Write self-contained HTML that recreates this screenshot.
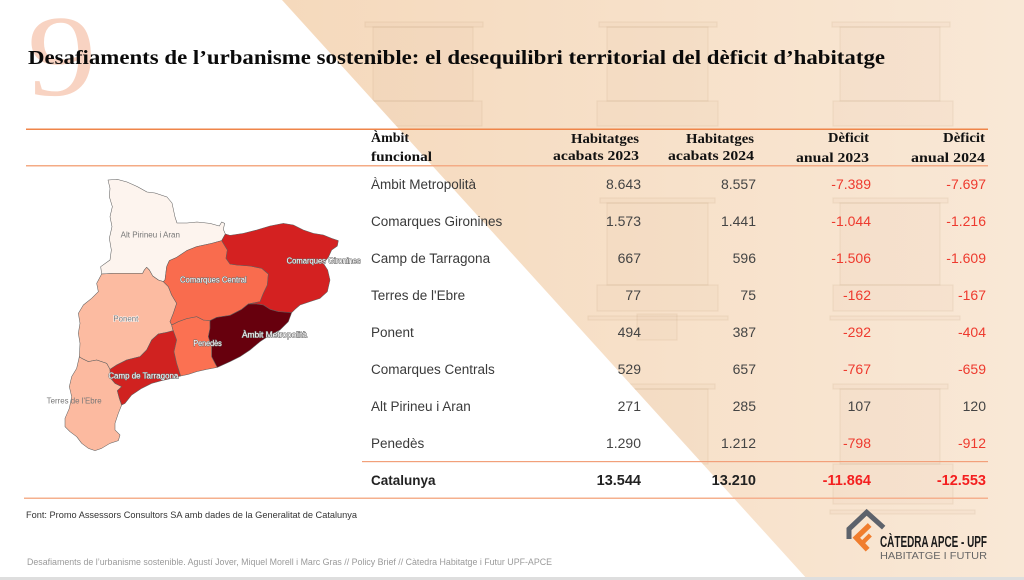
<!DOCTYPE html>
<html><head><meta charset="utf-8">
<style>
html,body{margin:0;padding:0;background:#fff;}
svg{display:block;}
</style></head>
<body>
<svg width="1024" height="580" viewBox="0 0 1024 580" xmlns="http://www.w3.org/2000/svg">
<defs>
<linearGradient id="bg" x1="0" y1="0" x2="1" y2="0">
<stop offset="0" stop-color="#f5d9bc"/>
<stop offset="1" stop-color="#f9e8d6"/>
</linearGradient>
<clipPath id="peach"><polygon points="282,0 1024,0 1024,580 808,580"/></clipPath>
</defs>
<rect width="1024" height="580" fill="#fff"/>
<polygon points="282,0 1024,0 1024,580 808,580" fill="url(#bg)"/>

<!-- faint building -->
<g clip-path="url(#peach)">
 <g fill="#b07a48" fill-opacity="0.035" stroke="#a06c3e" stroke-opacity="0.09" stroke-width="1.2">
  <rect x="365" y="22" width="118" height="5"/>
  <rect x="373" y="27" width="100" height="74"/>
  <rect x="370" y="101" width="112" height="25"/>
  <rect x="599" y="22" width="118" height="5"/>
  <rect x="607" y="27" width="101" height="74"/>
  <rect x="597" y="101" width="121" height="25"/>
  <rect x="832" y="22" width="118" height="5"/>
  <rect x="840" y="27" width="100" height="74"/>
  <rect x="833" y="101" width="120" height="25"/>
  <rect x="600" y="198" width="115" height="5"/>
  <rect x="607" y="203" width="101" height="82"/>
  <rect x="597" y="285" width="121" height="26"/>
  <rect x="588" y="316" width="140" height="4"/>
  <rect x="637" y="314" width="40" height="26"/>
  <rect x="833" y="198" width="115" height="5"/>
  <rect x="840" y="203" width="100" height="82"/>
  <rect x="833" y="285" width="120" height="26"/>
  <rect x="830" y="316" width="130" height="4"/>
  <rect x="600" y="384" width="115" height="5"/>
  <rect x="607" y="389" width="101" height="75"/>
  <rect x="833" y="384" width="115" height="5"/>
  <rect x="840" y="389" width="100" height="75"/>
  <rect x="833" y="464" width="120" height="40"/>
  <rect x="830" y="510" width="145" height="4"/>
 </g>
</g>

<!-- big 9 -->
<text transform="translate(27,95) scale(1.2,1)" x="0" y="0" font-family="Liberation Serif, serif" font-size="116" fill="#f8d3c2">9</text>

<!-- title -->
<text x="28" y="64" font-family="Liberation Serif, serif" font-weight="bold" font-size="19.5" fill="#0a0a0a" textLength="857" lengthAdjust="spacingAndGlyphs">Desafiaments de l’urbanisme sostenible: el desequilibri territorial del dèficit d’habitatge</text>

<!-- lines -->
<rect x="26" y="128.5" width="962" height="1.5" fill="#ef8549"/>
<rect x="26" y="165" width="962" height="1.5" fill="#f4ab85"/>
<rect x="362" y="461" width="626" height="1.2" fill="#f2a07a"/>
<rect x="24" y="497.5" width="964" height="1.5" fill="#f5b08e"/>

<!-- header -->
<g font-family="Liberation Serif, serif" font-weight="bold" font-size="14" fill="#111">
 <text x="371" y="142" textLength="38" lengthAdjust="spacingAndGlyphs">Àmbit</text>
 <text x="371" y="161" textLength="61" lengthAdjust="spacingAndGlyphs">funcional</text>
 <text x="571" y="143" textLength="68" lengthAdjust="spacingAndGlyphs">Habitatges</text>
 <text x="553" y="160" textLength="86" lengthAdjust="spacingAndGlyphs">acabats 2023</text>
 <text x="686" y="143" textLength="68" lengthAdjust="spacingAndGlyphs">Habitatges</text>
 <text x="668" y="160" textLength="86" lengthAdjust="spacingAndGlyphs">acabats 2024</text>
 <text x="828" y="142" textLength="41" lengthAdjust="spacingAndGlyphs">Dèficit</text>
 <text x="796" y="162" textLength="73" lengthAdjust="spacingAndGlyphs">anual 2023</text>
 <text x="943" y="142" textLength="42" lengthAdjust="spacingAndGlyphs">Dèficit</text>
 <text x="911" y="162" textLength="74" lengthAdjust="spacingAndGlyphs">anual 2024</text>
</g>

<!-- rows -->
<g font-family="Liberation Sans, sans-serif" font-size="13.5" fill="#3a3a3a">
 <text x="371" y="189">Àmbit Metropolità</text>
 <text x="371" y="226">Comarques Gironines</text>
 <text x="371" y="263">Camp de Tarragona</text>
 <text x="371" y="300">Terres de l'Ebre</text>
 <text x="371" y="337">Ponent</text>
 <text x="371" y="374">Comarques Centrals</text>
 <text x="371" y="411">Alt Pirineu i Aran</text>
 <text x="371" y="448">Penedès</text>
 <text x="371" y="485" font-weight="bold" fill="#222">Catalunya</text>
</g>
<g font-family="Liberation Sans, sans-serif" font-size="14" fill="#444" text-anchor="end">
 <text x="641" y="189">8.643</text><text x="756" y="189">8.557</text>
 <text x="641" y="226">1.573</text><text x="756" y="226">1.441</text>
 <text x="641" y="263">667</text><text x="756" y="263">596</text>
 <text x="641" y="300">77</text><text x="756" y="300">75</text>
 <text x="641" y="337">494</text><text x="756" y="337">387</text>
 <text x="641" y="374">529</text><text x="756" y="374">657</text>
 <text x="641" y="411">271</text><text x="756" y="411">285</text>
 <text x="641" y="448">1.290</text><text x="756" y="448">1.212</text>
 <text x="871" y="411">107</text><text x="986" y="411">120</text>
</g>
<g font-family="Liberation Sans, sans-serif" font-size="14" fill="#ee3a2e" text-anchor="end">
 <text x="871" y="189">-7.389</text><text x="986" y="189">-7.697</text>
 <text x="871" y="226">-1.044</text><text x="986" y="226">-1.216</text>
 <text x="871" y="263">-1.506</text><text x="986" y="263">-1.609</text>
 <text x="871" y="300">-162</text><text x="986" y="300">-167</text>
 <text x="871" y="337">-292</text><text x="986" y="337">-404</text>
 <text x="871" y="374">-767</text><text x="986" y="374">-659</text>
 <text x="871" y="448">-798</text><text x="986" y="448">-912</text>
</g>
<g font-family="Liberation Sans, sans-serif" font-size="14.5" font-weight="bold" text-anchor="end">
 <text x="641" y="485" fill="#222">13.544</text><text x="756" y="485" fill="#222">13.210</text>
 <text x="871" y="485" fill="#f41f1f">-11.864</text><text x="986" y="485" fill="#f41f1f">-12.553</text>
</g>

<!-- map -->
<g transform="translate(30,170) scale(0.33333)" stroke="#5f5f5f" stroke-width="1.6" stroke-linejoin="round">
 <polygon fill="#fdf4ee" points="234,30 262,28 291,36 322,50 351,66 375,69 411,81 426,99 435,141 441,159 471,159 501,156 540,160 568,168 575,156 584,160 580,178 586,192 575,212 545,220 500,230 470,242 440,262 418,272 410,290 405,330 400,335 385,330 368,318 358,300 350,292 343,300 338,310 300,310 250,310 215,312 212,290 240,270 244,240 238,205 246,170 240,140 247,110 238,80 240,55"/>
 <polygon fill="#fcbba1" points="215,312 250,310 300,310 338,310 343,300 350,292 358,300 368,318 385,330 400,335 415,350 425,375 440,400 430,430 420,455 425,465 428,478 430,482 410,487 385,492 365,510 350,540 330,560 290,570 260,585 240,598 230,580 200,570 175,575 155,565 148,560 150,520 145,490 150,460 145,430 160,405 185,385 205,365 200,340"/>
 <polygon fill="#fcbaa0" points="148,560 155,565 175,575 200,570 230,580 240,598 242,625 255,640 275,650 262,662 268,685 275,705 265,730 255,760 255,780 270,795 265,812 240,820 215,835 195,842 175,835 155,820 140,800 120,785 105,770 105,745 118,715 125,680 118,650 125,620 140,595"/>
 <polygon fill="#d02220" points="240,598 260,585 290,570 330,560 350,540 365,510 385,492 410,487 430,482 440,510 432,545 440,580 452,618 425,625 395,632 365,640 335,655 305,675 285,700 275,705 268,685 262,662 275,650 255,640 242,625"/>
 <polygon fill="#fb7152" points="425,465 445,455 470,446 500,440 520,450 540,452 540,475 535,500 545,530 545,560 558,585 562,592 530,598 500,605 475,613 452,618 440,580 432,545 440,510 430,482 428,478"/>
 <polygon fill="#f96c4e" points="400,335 405,330 410,290 418,272 440,262 470,242 500,230 545,220 575,212 592,240 588,265 600,282 620,285 660,288 695,295 715,312 712,345 700,370 690,395 655,402 635,418 600,436 560,442 540,452 520,450 500,440 470,446 445,455 425,465 420,455 430,430 440,400 425,375 415,350"/>
 <polygon fill="#d42121" points="575,212 586,192 600,196 640,190 680,180 720,168 760,160 790,165 820,180 850,190 880,195 905,205 925,212 922,228 905,240 895,262 880,280 893,300 900,330 892,365 870,385 840,395 810,405 795,418 785,428 745,425 720,418 700,405 680,402 655,402 690,395 700,370 712,345 715,312 695,295 660,288 620,285 600,282 588,265 592,240"/>
 <polygon fill="#67000d" points="540,452 560,442 600,436 635,418 655,402 680,402 700,405 720,418 745,425 785,428 775,455 750,480 720,495 690,515 660,540 630,560 600,575 562,592 558,585 545,560 545,530 535,500 540,475"/>
</g>
<g transform="translate(30,170) scale(0.33333)" font-family="Liberation Sans, sans-serif" font-size="24">
 <text x="272" y="203" fill="#777" textLength="178" lengthAdjust="spacingAndGlyphs">Alt Pirineu i Aran</text>
 <text x="250" y="455" fill="#777" stroke="#fff" stroke-width="3" paint-order="stroke" textLength="75" lengthAdjust="spacingAndGlyphs">Ponent</text>
 <text x="50" y="700" fill="#777" textLength="165" lengthAdjust="spacingAndGlyphs">Terres de l'Ebre</text>
 <g fill="#fff" stroke="#6b6b6b" stroke-width="3" paint-order="stroke">
  <text x="770" y="280" textLength="222" lengthAdjust="spacingAndGlyphs">Comarques Gironines</text>
  <text x="450" y="338" textLength="200" lengthAdjust="spacingAndGlyphs">Comarques Central</text>
  <text x="636" y="502" textLength="195" lengthAdjust="spacingAndGlyphs">Àmbit Metropolità</text>
  <text x="490" y="528" textLength="85" lengthAdjust="spacingAndGlyphs">Penedès</text>
  <text x="235" y="626" textLength="210" lengthAdjust="spacingAndGlyphs">Camp de Tarragona</text>
 </g>
</g>

<!-- source & footer -->
<text x="26" y="518" font-family="Liberation Sans, sans-serif" font-size="9.5" fill="#333" textLength="331" lengthAdjust="spacingAndGlyphs">Font: Promo Assessors Consultors SA amb dades de la Generalitat de Catalunya</text>
<text x="27" y="565" font-family="Liberation Sans, sans-serif" font-size="9" fill="#9a9a9a" textLength="525" lengthAdjust="spacingAndGlyphs">Desafiaments de l’urbanisme sostenible. Agustí Jover, Miquel Morell i Marc Gras // Policy Brief // Càtedra Habitatge i Futur UPF-APCE</text>
<rect x="0" y="577" width="1024" height="3" fill="#dedede"/>

<!-- logo -->
<g transform="translate(835,505) scale(0.33333)" fill="none" stroke-linejoin="miter">
 <polyline points="42,102 42,72 95,22 146,68" stroke="#5d626b" stroke-width="15"/>
 <polyline points="104,60 64,98 98,134" stroke="#f07d2e" stroke-width="16"/>
 <polyline points="84,112 106,90" stroke="#f07d2e" stroke-width="13"/>
</g>
<text x="880" y="547" font-family="Liberation Sans, sans-serif" font-weight="bold" font-size="16" fill="#1a1a1a" textLength="107" lengthAdjust="spacingAndGlyphs">CÀTEDRA APCE - UPF</text>
<text x="880" y="559" font-family="Liberation Sans, sans-serif" font-size="10.5" fill="#666" textLength="107" lengthAdjust="spacingAndGlyphs">HABITATGE I FUTUR</text>
</svg>
</body></html>
